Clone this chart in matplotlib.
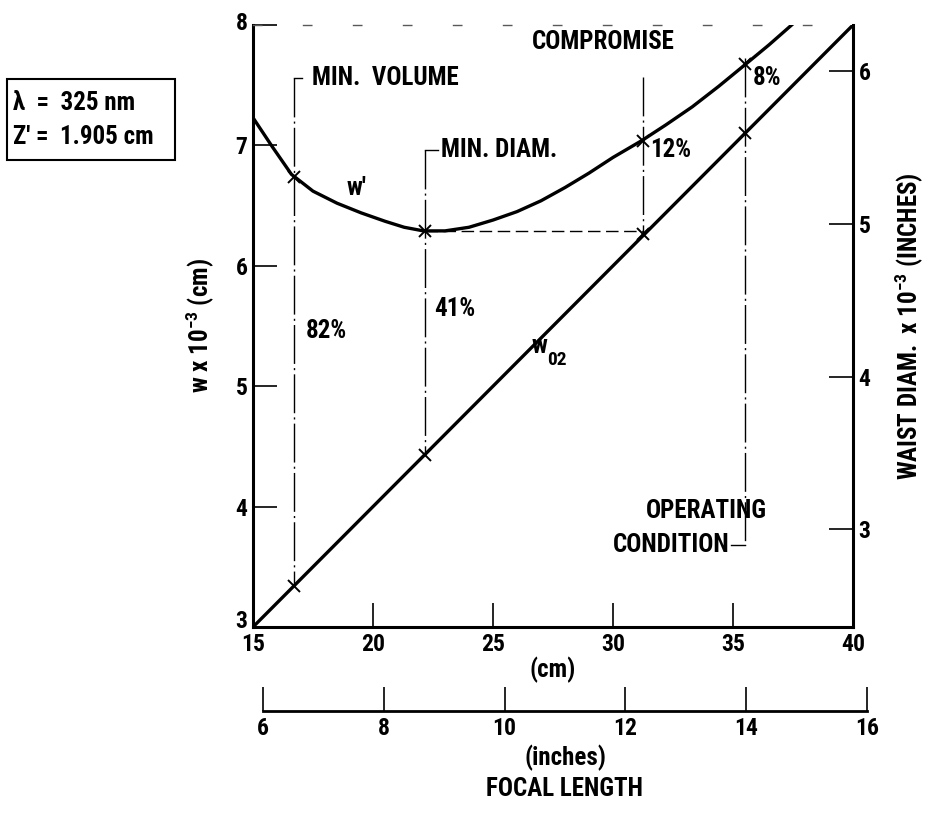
import matplotlib
matplotlib.use('Agg')
import matplotlib.pyplot as plt
from matplotlib import font_manager
from matplotlib.transforms import ScaledTranslation

# pick a narrow font if one is installed
names = {f.name for f in font_manager.fontManager.ttflist}
stretch = 'normal'
family = 'DejaVu Sans'
for n in ['Liberation Sans Narrow', 'Roboto Condensed', 'Open Sans Condensed', 'DejaVu Sans Condensed']:
    if n in names:
        family = n
        break
else:
    for f in font_manager.fontManager.ttflist:
        if f.name in ('DejaVu Sans', 'Roboto', 'Open Sans', 'Noto Sans') and f.stretch in ('condensed', 'semi-condensed', 600, 700):
            family = f.name
            stretch = f.stretch
            break
plt.rcParams['font.family'] = [family, 'DejaVu Sans']
plt.rcParams['font.stretch'] = stretch
plt.rcParams['font.weight'] = 'bold'
plt.rcParams['axes.labelweight'] = 'bold'
plt.rcParams['mathtext.fontset'] = 'custom'
plt.rcParams['mathtext.rm'] = family
plt.rcParams['mathtext.bf'] = family + ':bold'
plt.rcParams['mathtext.default'] = 'bf'

# focal length (cm) and beam radius w x 10^-3 (cm)
wp_x = [15.0, 15.8, 16.6, 17.5, 18.5, 19.5, 20.5, 21.3, 22.1, 23.0, 24.0, 25.0, 26.0, 27.0,
        28.0, 29.0, 30.0, 31.2, 32.2, 33.3, 34.4, 35.5, 36.5, 37.5]
wp_y = [7.23, 6.99, 6.76, 6.62, 6.52, 6.44, 6.37, 6.32, 6.29, 6.29, 6.32, 6.38, 6.45, 6.54,
        6.65, 6.77, 6.90, 7.04, 7.17, 7.32, 7.49, 7.67, 7.835, 8.01]
w02_x = [15.0, 40.0]
w02_y = [3.0, 8.0]

# marked points: min volume, min diam, compromise, operating condition
mark_x = [16.7, 22.15, 31.25, 35.5]
mark_wp = [6.74, 6.29, 7.04, 7.68]
mark_w02 = [3.34, 4.43, 6.26, 7.1]
pct = ['82%', '41%', '12%', '8%']

cm_ticks = [15, 20, 25, 30, 35, 40]
w_ticks = [3, 4, 5, 6, 7, 8]
in_ticks = [6, 8, 10, 12, 14, 16]
diam_ticks = [3, 4, 5, 6]

fig = plt.figure(figsize=(9.34, 8.13), dpi=100)
ax = fig.add_axes([253/934, 1-627/813, 600/934, 602/813])
fs = 18
tfs = 17

ax.plot(wp_x, wp_y, color='black', lw=2.4, solid_capstyle='round', solid_joinstyle='round')
ax.plot(w02_x, w02_y, color='black', lw=2.4)
ax.plot(mark_x, mark_wp, 'x', color='black', ms=8, mew=1.4)
ax.plot(mark_x, mark_w02, 'x', color='black', ms=8, mew=1.4)

dd = (0, (28, 3, 1.5, 3))
# vertical guide lines
tops = [7.56, 6.96, 7.57, 7.73]
bots = [mark_w02[0], mark_w02[1], mark_w02[2], 3.68]
for x, t, b in zip(mark_x, tops, bots):
    ax.plot([x, x], [t, b], color='black', lw=1.0, ls=dd)
# brackets
ax.plot([mark_x[0], mark_x[0] + 0.35], [7.56, 7.56], color='black', lw=1.0)
ax.plot([mark_x[1], mark_x[1] + 0.55], [6.96, 6.96], color='black', lw=1.0)
ax.plot([mark_x[3] - 0.6, mark_x[3]], [3.68, 3.68], color='black', lw=1.0)
# horizontal dashed line from min diam to compromise
ax.plot([mark_x[1], mark_x[2]], [mark_wp[1], mark_wp[1]], color='black', lw=1.0, ls=(0, (9, 4)))

ax.text(17.45, 7.56, 'MIN.  VOLUME', fontsize=fs, va='center', ha='left')
ax.text(22.85, 6.96, 'MIN. DIAM.', fontsize=fs, va='center', ha='left')
ax.text(29.6, 7.86, 'COMPROMISE', fontsize=fs, va='center', ha='center')
ax.text(33.9, 3.96, 'OPERATING', fontsize=fs, va='center', ha='center')
ax.text(34.85, 3.68, 'CONDITION', fontsize=fs, va='center', ha='right')
ax.text(19.3, 6.65, "w'", fontsize=fs, va='center', ha='center')
ax.text(27.25, 5.33, 'w', fontsize=fs, va='center', ha='right')
ax.text(27.25, 5.22, '02', fontsize=14, va='center', ha='left')
pct_pos = [(18.05, 5.46), (23.4, 5.64), (32.4, 6.96), (36.4, 7.56)]
for (px, py), s in zip(pct_pos, pct):
    ax.text(px, py, s, fontsize=fs, va='center', ha='center')

ax.set_xlim(15, 40)
ax.set_ylim(3, 8)
ax.set_xticks(cm_ticks)
ax.set_yticks(w_ticks)
ax.tick_params(direction='in', length=17, width=1.2, labelsize=tfs, pad=4)
ax.tick_params(axis='y', right=False)
ax.spines['right'].set_visible(False)
ax.spines['left'].set_linewidth(2.2)
ax.spines['bottom'].set_linewidth(2.2)
ax.spines['top'].set_linewidth(1.0)
ax.spines['top'].set_linestyle((0, (6, 30)))
ax.spines['top'].set_color('0.35')
ax.set_xlabel('(cm)', fontsize=fs, labelpad=1)
ax.set_ylabel('w x 10$^{-3}$ (cm)', fontsize=fs, labelpad=14)
# lift the corner labels a little so "3" and "15" do not collide
ylabs = ax.get_yticklabels()
ylabs[0].set_transform(ylabs[0].get_transform() + ScaledTranslation(0, 8/100, fig.dpi_scale_trans))
ylabs[-1].set_transform(ylabs[-1].get_transform() + ScaledTranslation(0, 4/100, fig.dpi_scale_trans))

# right axis: waist diameter in inches
sec = ax.secondary_yaxis('right', functions=(lambda w: w * 2 / 2.54, lambda d: d * 2.54 / 2))
sec.set_yticks(diam_ticks)
sec.tick_params(direction='in', length=17, width=1.2, labelsize=tfs, pad=4)
sec.spines['right'].set_linewidth(2.2)
sec.set_ylabel('WAIST DIAM.  x 10$^{-3}$ (INCHES)', fontsize=fs, labelpad=16)

# inch scale below
ax2 = fig.add_axes([263/934, 1-711/813, 604/934, 0.03])
ax2.set_xlim(6, 16)
ax2.set_xticks(in_ticks)
ax2.set_yticks([])
for s in ['top', 'left', 'right']:
    ax2.spines[s].set_visible(False)
ax2.spines['bottom'].set_linewidth(2.0)
ax2.patch.set_alpha(0)
ax2.tick_params(direction='in', length=17, width=1.2, labelsize=tfs, pad=4)
ax2.set_xlabel('(inches)\nFOCAL LENGTH', fontsize=fs, labelpad=4, linespacing=1.3)

fig.text(13/934, 1-103/813, 'λ  =  325 nm', fontsize=fs, va='center', ha='left')
fig.text(13/934, 1-137/813, "Z' =  1.905 cm", fontsize=fs, va='center', ha='left')
box = plt.Rectangle((7/934, 1-160/813), 168/934, 81/813, transform=fig.transFigure,
                    fill=False, lw=1.5, color='black')
fig.patches.append(box)

fig.savefig('out.png', dpi=100)
